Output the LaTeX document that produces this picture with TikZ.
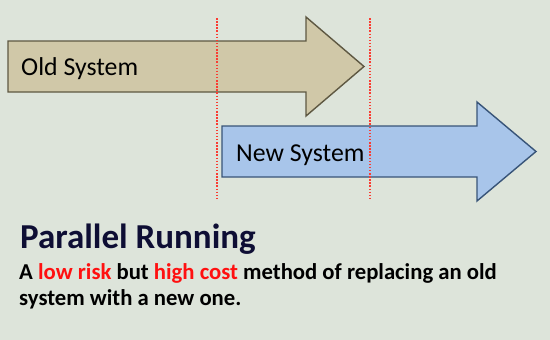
\documentclass[tikz,border=0pt]{standalone}
\usepackage{fontspec}
\setmainfont{Carlito}
\definecolor{bgcol}{RGB}{221,228,218}
\definecolor{oldfill}{RGB}{208,200,168}
\definecolor{olddraw}{RGB}{94,88,66}
\definecolor{newfill}{RGB}{168,197,234}
\definecolor{newdraw}{RGB}{56,84,120}
\definecolor{titlecol}{RGB}{14,14,52}
\definecolor{keycol}{RGB}{255,16,16}
\definecolor{cutcol}{RGB}{250,60,50}
\begin{document}
\begin{tikzpicture}[x=1pt, y=-1pt,
    sysarrow/.style={line width=1.4pt, line join=miter},
    cutline/.style={draw=cutcol, line width=2pt, dash pattern=on 1.5pt off 1.6pt},
    syslabel/.style={anchor=base west, inner sep=0pt, font=\fontsize{25.8}{30}\selectfont}]
    \fill[bgcol] (0,0) rectangle (550,340);
    \useasboundingbox (0,0) rectangle (550,340);

    % old system arrow
    \draw[sysarrow, fill=oldfill, draw=olddraw]
        (8,41) -- (306,41) -- (306,17) -- (364,66.5)
        -- (306,116) -- (306,92) -- (8,92) -- cycle;
    \node[syslabel] (oldsys) at (21,75) {Old System};

    % new system arrow
    \draw[sysarrow, fill=newfill, draw=newdraw]
        (222,126) -- (477,126) -- (477,102) -- (536,151.5)
        -- (477,201) -- (477,177) -- (222,177) -- cycle;
    \node[syslabel] (newsys) at (236,161) {New System};

    % changeover period
    \draw[cutline] (216.5,18) -- (216.5,200);
    \draw[cutline] (369.5,18) -- (369.5,200);

    \node[anchor=base west, inner sep=0pt, text=titlecol,
          font=\fontsize{35}{40}\selectfont\bfseries] (title) at (20,248.5) {Parallel Running};
    \node[anchor=base west, inner sep=0pt, align=left,
          font=\fontsize{22.7}{26}\selectfont\bfseries] (desc) at (19,305)
        {A \textcolor{keycol}{low risk} but \textcolor{keycol}{high cost} method of replacing an old\\
         system with a new one.};
\end{tikzpicture}
\end{document}
